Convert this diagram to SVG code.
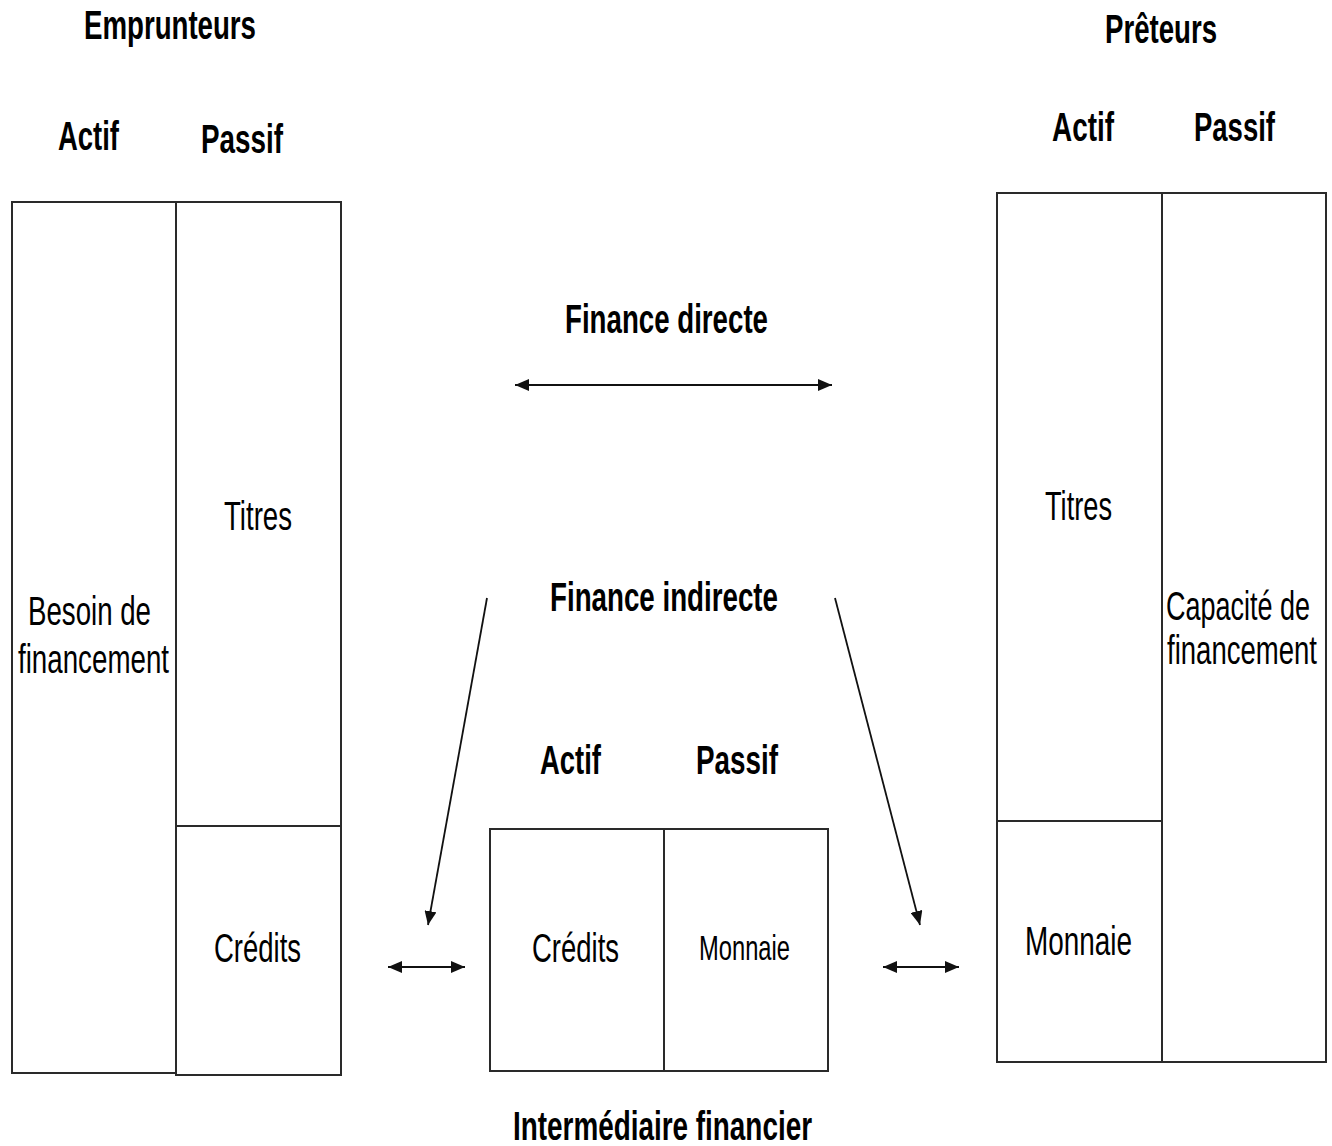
<svg xmlns="http://www.w3.org/2000/svg" width="1332" height="1146" viewBox="0 0 1332 1146">
  <style>
    .box { fill: none; stroke: #2a2a2a; stroke-width: 2; }
    .div { stroke: #2a2a2a; stroke-width: 2; }
    .hd { font-family: "Liberation Sans", Arial, sans-serif; font-weight: bold; font-size: 40px; fill: #000; }
    .lb { font-family: "Liberation Sans", Arial, sans-serif; font-size: 41px; fill: #000; }
    .lbn { font-family: "Liberation Sans", Arial, sans-serif; font-size: 28px; fill: #000; }
    .sm { font-family: "Liberation Sans", Arial, sans-serif; font-size: 35px; fill: #000; }
    .arr { stroke: #111; stroke-width: 1.8; fill: none; }
  </style>
  <defs>
    <marker id="head" markerUnits="userSpaceOnUse" markerWidth="14" markerHeight="12" refX="14" refY="6" orient="auto-start-reverse">
      <path d="M0,0 L14,6 L0,12 z" fill="#111"/>
    </marker>
  </defs>
  <rect width="1332" height="1146" fill="#fff"/>

  <!-- Borrowers balance sheet -->
  <g id="emprunteurs">
    <text class="hd" x="84" y="39" textLength="172" lengthAdjust="spacingAndGlyphs">Emprunteurs</text>
    <text class="hd" x="58" y="150" textLength="61" lengthAdjust="spacingAndGlyphs">Actif</text>
    <text class="hd" x="201" y="153" textLength="82" lengthAdjust="spacingAndGlyphs">Passif</text>
    <rect class="box" x="12" y="202" width="164" height="871"/>
    <rect class="box" x="176" y="202" width="165" height="873"/>
    <line class="div" x1="176" y1="826" x2="341" y2="826"/>
    <text class="lb" x="28" y="625" textLength="123" lengthAdjust="spacingAndGlyphs">Besoin de</text>
    <text class="lb" x="18" y="673" textLength="151" lengthAdjust="spacingAndGlyphs">financement</text>
    <text class="lb" x="224" y="530" textLength="68" lengthAdjust="spacingAndGlyphs">Titres</text>
    <text class="lb" x="214" y="962" textLength="87" lengthAdjust="spacingAndGlyphs">Crédits</text>
  </g>

  <!-- Lenders balance sheet -->
  <g id="preteurs">
    <text class="hd" x="1105" y="43" textLength="112" lengthAdjust="spacingAndGlyphs">Prêteurs</text>
    <text class="hd" x="1052" y="141" textLength="62" lengthAdjust="spacingAndGlyphs">Actif</text>
    <text class="hd" x="1194" y="141" textLength="81" lengthAdjust="spacingAndGlyphs">Passif</text>
    <rect class="box" x="997" y="193" width="165" height="869"/>
    <rect class="box" x="1162" y="193" width="164" height="869"/>
    <line class="div" x1="997" y1="821" x2="1162" y2="821"/>
    <text class="lb" x="1045" y="520" textLength="67" lengthAdjust="spacingAndGlyphs">Titres</text>
    <text class="lb" x="1025" y="955" textLength="107" lengthAdjust="spacingAndGlyphs">Monnaie</text>
    <!-- narrow column: smaller size stretched vertically to keep the same look -->
    <text class="lbn" transform="translate(1166 620) scale(1 1.46)" textLength="144" lengthAdjust="spacingAndGlyphs">Capacité de</text>
    <text class="lbn" transform="translate(1167 664) scale(1 1.46)" textLength="150" lengthAdjust="spacingAndGlyphs">financement</text>
  </g>

  <!-- Financial intermediary balance sheet -->
  <g id="intermediaire">
    <text class="hd" x="540" y="774" textLength="61" lengthAdjust="spacingAndGlyphs">Actif</text>
    <text class="hd" x="696" y="774" textLength="82" lengthAdjust="spacingAndGlyphs">Passif</text>
    <rect class="box" x="490" y="829" width="174" height="242"/>
    <rect class="box" x="664" y="829" width="164" height="242"/>
    <text class="lb" x="532" y="962" textLength="87" lengthAdjust="spacingAndGlyphs">Crédits</text>
    <text class="sm" x="699" y="960" textLength="91" lengthAdjust="spacingAndGlyphs">Monnaie</text>
    <text class="hd" x="513" y="1140" textLength="299" lengthAdjust="spacingAndGlyphs">Intermédiaire financier</text>
  </g>

  <!-- Flow labels -->
  <g id="labels">
    <text class="hd" x="565" y="333" textLength="203" lengthAdjust="spacingAndGlyphs">Finance directe</text>
    <text class="hd" x="550" y="611" textLength="228" lengthAdjust="spacingAndGlyphs">Finance indirecte</text>
  </g>

  <!-- Connectors -->
  <g id="connectors">
    <line class="arr" x1="515" y1="385" x2="832" y2="385" marker-start="url(#head)" marker-end="url(#head)"/>
    <line class="arr" x1="487" y1="598" x2="428" y2="925" marker-end="url(#head)"/>
    <line class="arr" x1="835" y1="598" x2="920" y2="925" marker-end="url(#head)"/>
    <line class="arr" x1="388" y1="967" x2="465" y2="967" marker-start="url(#head)" marker-end="url(#head)"/>
    <line class="arr" x1="883" y1="967" x2="959" y2="967" marker-start="url(#head)" marker-end="url(#head)"/>
  </g>
</svg>
